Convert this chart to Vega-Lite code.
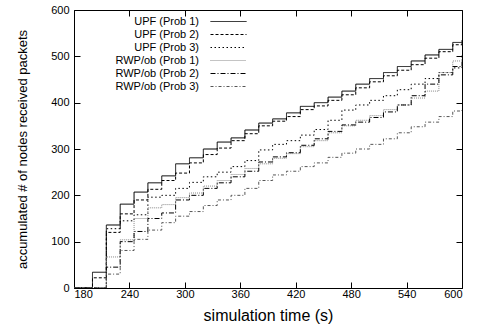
{
  "$schema": "https://vega.github.io/schema/vega-lite/v6.json",
  "width": 388,
  "height": 278,
  "autosize": "none",
  "padding": {"left": 74, "top": 10, "right": 22, "bottom": 47},
  "background": "white",
  "config": {
    "font": "Liberation Sans",
    "view": {"stroke": "black", "strokeWidth": 1},
    "axis": {
      "grid": false,
      "domain": false,
      "tickColor": "black",
      "tickSize": -6,
      "labelColor": "black",
      "labelFontSize": 11,
      "labelFont": "Liberation Sans",
      "titleFont": "Liberation Sans",
      "titleFontWeight": "normal",
      "titleColor": "black"
    },
    "legend": {
      "orient": "none", "legendX": 148, "legendY": 5, "title": null,
      "symbolType": "M-3,0H3", "symbolSize": 144, "symbolStrokeWidth": 1,
      "labelAlign": "right", "labelOffset": -36, "labelFontSize": 11, "labelColor": "black",
      "labelFont": "Liberation Sans", "rowPadding": 1, "padding": 0
    }
  },
  "data": {
    "values": [
      {"t": 180, "U1": 0, "U2": 0, "U3": 0, "R1": 0, "R2": 0, "R3": 0},
      {"t": 200, "U1": 34, "U2": 22, "U3": 0, "R1": 0, "R2": 0, "R3": 0},
      {"t": 215, "U1": 136, "U2": 120, "U3": 128, "R1": 67, "R2": 45, "R3": 30},
      {"t": 230, "U1": 181, "U2": 160, "U3": 145, "R1": 104, "R2": 100, "R3": 81},
      {"t": 245, "U1": 207, "U2": 190, "U3": 158, "R1": 150, "R2": 122, "R3": 105},
      {"t": 260, "U1": 227, "U2": 213, "U3": 196, "R1": 173, "R2": 150, "R3": 125},
      {"t": 275, "U1": 242, "U2": 232, "U3": 200, "R1": 180, "R2": 162, "R3": 141},
      {"t": 290, "U1": 268, "U2": 248, "U3": 215, "R1": 195, "R2": 190, "R3": 155},
      {"t": 305, "U1": 281, "U2": 270, "U3": 228, "R1": 205, "R2": 200, "R3": 165},
      {"t": 320, "U1": 300, "U2": 288, "U3": 240, "R1": 220, "R2": 215, "R3": 178},
      {"t": 335, "U1": 315, "U2": 302, "U3": 250, "R1": 232, "R2": 227, "R3": 190},
      {"t": 350, "U1": 324, "U2": 318, "U3": 262, "R1": 245, "R2": 240, "R3": 200},
      {"t": 365, "U1": 341, "U2": 333, "U3": 275, "R1": 258, "R2": 252, "R3": 215},
      {"t": 380, "U1": 356, "U2": 350, "U3": 298, "R1": 268, "R2": 272, "R3": 232},
      {"t": 395, "U1": 365, "U2": 360, "U3": 310, "R1": 280, "R2": 283, "R3": 244},
      {"t": 410, "U1": 378, "U2": 370, "U3": 318, "R1": 290, "R2": 292, "R3": 252},
      {"t": 425, "U1": 392, "U2": 385, "U3": 330, "R1": 305, "R2": 308, "R3": 262},
      {"t": 440, "U1": 400, "U2": 393, "U3": 342, "R1": 318, "R2": 322, "R3": 270},
      {"t": 455, "U1": 412, "U2": 405, "U3": 362, "R1": 335, "R2": 338, "R3": 282},
      {"t": 470, "U1": 425, "U2": 417, "U3": 384, "R1": 350, "R2": 352, "R3": 291},
      {"t": 485, "U1": 440, "U2": 432, "U3": 395, "R1": 362, "R2": 358, "R3": 300},
      {"t": 500, "U1": 452, "U2": 445, "U3": 405, "R1": 372, "R2": 368, "R3": 310},
      {"t": 515, "U1": 465, "U2": 458, "U3": 415, "R1": 385, "R2": 380, "R3": 322},
      {"t": 530, "U1": 478, "U2": 470, "U3": 428, "R1": 395, "R2": 395, "R3": 335},
      {"t": 545, "U1": 490, "U2": 482, "U3": 440, "R1": 410, "R2": 415, "R3": 348},
      {"t": 560, "U1": 503, "U2": 496, "U3": 452, "R1": 425, "R2": 440, "R3": 358},
      {"t": 575, "U1": 515, "U2": 510, "U3": 465, "R1": 465, "R2": 460, "R3": 370},
      {"t": 590, "U1": 530, "U2": 525, "U3": 475, "R1": 490, "R2": 478, "R3": 382},
      {"t": 600, "U1": 535, "U2": 530, "U3": 482, "R1": 503, "R2": 488, "R3": 387}
    ]
  },
  "transform": [
    {"fold": ["U1", "U2", "U3", "R1", "R2", "R3"], "as": ["key", "v"]},
    {"lookup": "key", "from": {"data": {"values": [
      {"key": "U1", "series": "UPF (Prob 1)"},
      {"key": "U2", "series": "UPF (Prob 2)"},
      {"key": "U3", "series": "UPF (Prob 3)"},
      {"key": "R1", "series": "RWP/ob (Prob 1)"},
      {"key": "R2", "series": "RWP/ob (Prob 2)"},
      {"key": "R3", "series": "RWP/ob (Prob 3)"}
    ]}, "key": "key", "fields": ["series"]}}
  ],
  "layer": [
    {
      "mark": {"type": "line", "interpolate": "step-after", "strokeWidth": 1, "clip": true},
      "encoding": {
        "x": {"field": "t", "type": "quantitative",
          "scale": {"domain": [180, 600], "nice": false, "zero": false},
          "axis": {"orient": "bottom", "values": [180, 240, 300, 360, 420, 480, 540, 600],
            "labelPadding": 6, "title": "simulation time (s)", "titleFontSize": 16, "titlePadding": 8}},
        "y": {"field": "v", "type": "quantitative",
          "scale": {"domain": [0, 600], "nice": false},
          "axis": {"orient": "left", "values": [0, 100, 200, 300, 400, 500, 600],
            "labelPadding": 11, "title": "accumulated # of nodes received packets", "titleFontSize": 13, "titlePadding": 21}},
        "color": {"field": "series", "type": "nominal",
          "scale": {"domain": ["UPF (Prob 1)", "UPF (Prob 2)", "UPF (Prob 3)", "RWP/ob (Prob 1)", "RWP/ob (Prob 2)", "RWP/ob (Prob 3)"],
            "range": ["#000000", "#000000", "#000000", "#888888", "#000000", "#555555"]}},
        "strokeDash": {"field": "series", "type": "nominal",
          "scale": {"domain": ["UPF (Prob 1)", "UPF (Prob 2)", "UPF (Prob 3)", "RWP/ob (Prob 1)", "RWP/ob (Prob 2)", "RWP/ob (Prob 3)"],
            "range": [[1, 0], [3, 2], [1.5, 2.5], [1, 1], [5, 2, 1, 2], [3, 2, 1, 2]]}}
      }
    },
    {
      "mark": {"type": "line", "opacity": 0},
      "encoding": {
        "x": {"field": "t", "type": "quantitative",
          "axis": {"orient": "top", "values": [180, 240, 300, 360, 420, 480, 540, 600], "labels": false, "title": null}},
        "y": {"field": "v", "type": "quantitative",
          "axis": {"orient": "right", "values": [0, 100, 200, 300, 400, 500, 600], "labels": false, "title": null}}
      }
    }
  ],
  "resolve": {"axis": {"x": "independent", "y": "independent"}}
}
